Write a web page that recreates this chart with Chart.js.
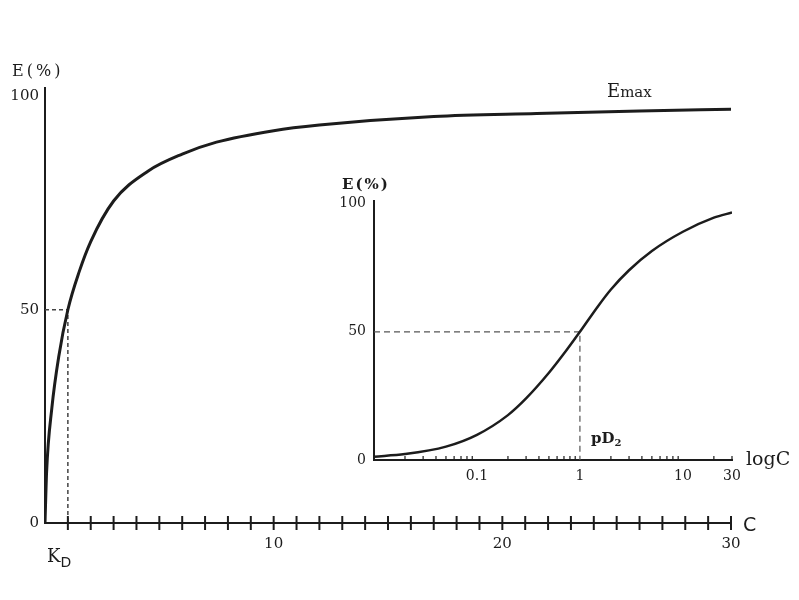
<!DOCTYPE html>
<html><head><meta charset="utf-8">
<script src="https://cdn.jsdelivr.net/npm/chart.js@4/dist/chart.umd.min.js"></script>
<style>
html,body{margin:0;padding:0;background:#fff;}
#wrap{position:relative;width:799px;height:600px;overflow:hidden;}
#wrap canvas{position:absolute;left:0;top:0;}
</style></head><body>
<div id="wrap"><canvas id="main" width="799" height="600"></canvas><canvas id="inset" width="799" height="600"></canvas></div>
<script>
// ---- Main plot: E(%) versus concentration C (linear axis) ----
const mainConc   = [0, 0.07, 0.3, 0.6, 1, 1.5, 2, 3, 4.5, 6, 7.5, 10, 12, 17, 21.5, 26, 30];
const mainEffect = [0, 12, 27, 39, 50, 59, 66, 75.5, 82.5, 86.5, 89.3, 92, 93.3, 95.3, 96, 96.6, 97];
const kdGuideConc   = [0, 1, 1];
const kdGuideEffect = [50, 50, 0];
const mainXTickLabels = [10, 20, 30];
const mainYTickLabels = [0, 50, 100];
const mainTickMarks = [1,2,3,4,5,6,7,8,9,10,11,12,13,14,15,16,17,18,19,20,21,22,23,24,25,26,27,28,29,30];

// ---- Inset: E(%) versus log C ----
const insetConc   = [0.01, 0.02, 0.05, 0.1, 0.2, 0.3, 0.5, 0.7, 1, 1.5, 2, 3, 5, 10, 20, 30];
const insetEffect = [1.3, 2.3, 5.2, 9.8, 17.5, 24, 34, 41.5, 50, 60, 66.5, 74, 81.5, 89, 94.5, 96.5];
const pd2GuideConc   = [0.01, 1, 1];
const pd2GuideEffect = [50, 50, 0];
const insetXTickLabels = [0.1, 1, 10, 30];
const insetYTickLabels = [0, 50, 100];
const insetMinorDecades = [0.01, 0.1, 1, 10];
const insetMinorMantissas = [2, 3, 4, 5, 6, 7, 8, 9];

const FONT = "'DejaVu Serif', 'Liberation Serif', serif";
const SANS = "'DejaVu Sans', 'Liberation Sans', sans-serif";
const INK = '#1c1c1c';

function pts(xs, ys){ return xs.map((x,i)=>({x:x, y:ys[i]})); }

const mainDecor = {
  id:'mainDecor',
  afterDraw(chart){
    const ctx = chart.ctx, xs = chart.scales.x, ys = chart.scales.y;
    const y0 = ys.getPixelForValue(0);
    ctx.save();
    ctx.strokeStyle = INK; ctx.lineWidth = 2;
    mainTickMarks.forEach(v=>{
      const px = xs.getPixelForValue(v);
      ctx.beginPath(); ctx.moveTo(px, y0-7); ctx.lineTo(px, y0+7); ctx.stroke();
    });
    ctx.fillStyle = INK;
    ctx.textBaseline = 'middle'; ctx.textAlign = 'left';
    ctx.font = '16px ' + FONT;
    ctx.letterSpacing = '3px';
    ctx.fillText('E(%)', 12, 72);
    ctx.letterSpacing = '0px';
    ctx.font = '19px ' + SANS;
    ctx.fillText('C', xs.right + 12, y0 + 3);
    // K_D
    const kx = xs.getPixelForValue(0) + 2;
    ctx.textBaseline = 'alphabetic';
    ctx.font = '18px ' + FONT;
    ctx.fillText('K', kx, 562);
    const kw = ctx.measureText('K').width;
    ctx.font = '14px ' + SANS;
    ctx.fillText('D', kx + kw, 567);
    // Emax
    ctx.font = '18px ' + FONT;
    ctx.fillText('E', 607, 97);
    const ew = ctx.measureText('E').width;
    ctx.font = '15px ' + FONT;
    ctx.fillText('max', 607 + ew, 97);
    ctx.restore();
  }
};

new Chart(document.getElementById('main'), {
  type:'line',
  data:{ datasets:[
    { data: pts(mainConc, mainEffect), borderColor: INK, borderWidth: 3, pointRadius: 0,
      cubicInterpolationMode: 'monotone', fill: false },
    { data: pts(kdGuideConc, kdGuideEffect), borderColor: '#444', borderWidth: 1.5,
      borderDash: [4,3], pointRadius: 0, tension: 0, fill: false }
  ]},
  options:{
    responsive:false, animation:false, events:[],
    layout:{ padding:{ top:88, right:68, left:0, bottom:0 } },
    plugins:{ legend:{display:false}, tooltip:{enabled:false} },
    scales:{
      x:{ type:'linear', min:0, max:30,
        grid:{ display:false, drawTicks:false },
        border:{ display:true, color:INK, width:2 },
        afterFit(s){ s.height = 77; },
        afterBuildTicks(s){ s.ticks = mainXTickLabels.map(v=>({value:v})); },
        ticks:{ padding:12, color:INK, font:{ family:FONT, size:15 }, autoSkip:false, maxRotation:0,
          callback:(v)=>String(v) } },
      y:{ type:'linear', min:0, max:102,
        grid:{ display:false, drawTicks:false },
        border:{ display:true, color:INK, width:2 },
        afterFit(s){ s.width = 45; },
        afterBuildTicks(s){ s.ticks = mainYTickLabels.map(v=>({value:v})); },
        ticks:{ padding:6, color:INK, font:{ family:FONT, size:15 }, autoSkip:false,
          callback:(v)=>String(v) } }
    }
  },
  plugins:[mainDecor]
});

const insetDecor = {
  id:'insetDecor',
  afterDraw(chart){
    const ctx = chart.ctx, xs = chart.scales.x, ys = chart.scales.y;
    const y0 = ys.getPixelForValue(0);
    ctx.save();
    ctx.strokeStyle = INK; ctx.lineWidth = 1.2;
    insetMinorDecades.forEach(d=>{
      insetMinorMantissas.forEach(m=>{
        const v = d*m;
        if (v > 30) return;
        const px = xs.getPixelForValue(v);
        ctx.beginPath(); ctx.moveTo(px, y0-4); ctx.lineTo(px, y0); ctx.stroke();
      });
    });
    ctx.fillStyle = INK;
    ctx.textBaseline = 'middle'; ctx.textAlign = 'left';
    ctx.font = 'bold 15px ' + FONT;
    ctx.letterSpacing = '2px';
    ctx.fillText('E(%)', 342, 185);
    ctx.letterSpacing = '0px';
    ctx.font = '19px ' + FONT;
    ctx.fillText('logC', 746, 460);
    // pD2
    ctx.textBaseline = 'alphabetic';
    ctx.font = 'bold 15px ' + FONT;
    const px1 = xs.getPixelForValue(1) + 11;
    ctx.fillText('pD', px1, 443);
    const w = ctx.measureText('pD').width;
    ctx.font = 'bold 10px ' + FONT;
    ctx.fillText('2', px1 + w, 446);
    ctx.restore();
  }
};

new Chart(document.getElementById('inset'), {
  type:'line',
  data:{ datasets:[
    { data: pts(insetConc, insetEffect), borderColor: INK, borderWidth: 2.5, pointRadius: 0,
      cubicInterpolationMode: 'monotone', fill: false },
    { data: pts(pd2GuideConc, pd2GuideEffect), borderColor: '#555', borderWidth: 1.2,
      borderDash: [6,4], pointRadius: 0, tension: 0, fill: false }
  ]},
  options:{
    responsive:false, animation:false, events:[],
    layout:{ padding:{ top:201, right:67, left:0, bottom:0 } },
    plugins:{ legend:{display:false}, tooltip:{enabled:false} },
    scales:{
      x:{ type:'logarithmic', min:0.01, max:30,
        grid:{ display:false, drawTicks:false },
        border:{ display:true, color:INK, width:2 },
        afterFit(s){ s.height = 140; },
        afterBuildTicks(s){ s.ticks = insetXTickLabels.map(v=>({value:v})); },
        ticks:{ padding:8, color:INK, font:{ family:FONT, size:14 }, autoSkip:false, maxRotation:0,
          callback:(v)=>String(v) } },
      y:{ type:'linear', min:0, max:101,
        grid:{ display:false, drawTicks:false },
        border:{ display:true, color:INK, width:2 },
        afterFit(s){ s.width = 374; },
        afterBuildTicks(s){ s.ticks = insetYTickLabels.map(v=>({value:v})); },
        ticks:{ padding:8, color:INK, font:{ family:FONT, size:14 }, autoSkip:false,
          callback:(v)=>String(v) } }
    }
  },
  plugins:[insetDecor]
});
</script>
</body></html>
